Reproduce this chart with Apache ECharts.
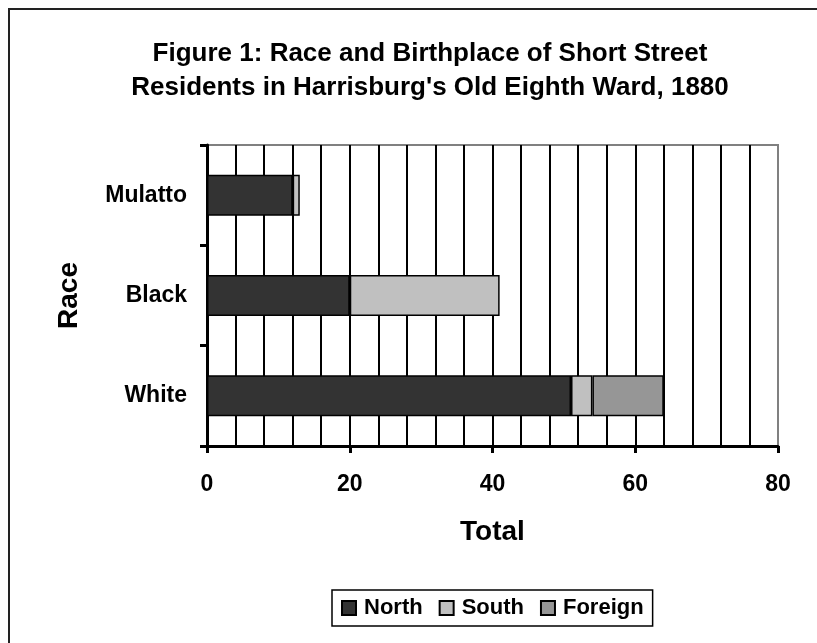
<!DOCTYPE html>
<html>
<head>
<meta charset="utf-8">
<script src="https://cdn.jsdelivr.net/npm/echarts@6/dist/echarts.min.js"></script>
<style>html,body{margin:0;padding:0;background:#fff}#c{width:817px;height:643px}</style>
</head>
<body>
<div id="c"></div>
<script>
const titleLines = ['Figure 1: Race and Birthplace of Short Street', "Residents in Harrisburg's Old Eighth Ward, 1880"];
const categories = ['White', 'Black', 'Mulatto'];
const seriesNames = ['North', 'South', 'Foreign'];
const north = [51, 20, 12];
const south = [3, 21, 1];
const foreign = [10, null, null];
const xTicks = [0, 20, 40, 60, 80];

const FONT = '"Liberation Sans", Arial, sans-serif';
const chart = echarts.init(document.getElementById('c'));
const barStyle = (color) => ({ color: color, borderColor: '#000', borderWidth: 1.5 });

chart.setOption({
  animation: false,
  backgroundColor: '#fff',
  graphic: [
    { type: 'rect', shape: { x: 9, y: 9, width: 900, height: 900 }, style: { fill: 'none', stroke: '#222', lineWidth: 2 }, silent: true },
    { type: 'text', x: 430, y: 54, style: { text: titleLines[0], font: 'bold 26px ' + FONT, fill: '#000', textAlign: 'center', textVerticalAlign: 'middle' } },
    { type: 'text', x: 430, y: 88, style: { text: titleLines[1], font: 'bold 26px ' + FONT, fill: '#000', textAlign: 'center', textVerticalAlign: 'middle' } }
  ],
  grid: { left: 207, right: 39, top: 145, bottom: 197, show: true, borderColor: '#808080', borderWidth: 2, backgroundColor: '#fff' },
  legend: {
    data: seriesNames,
    left: 332, top: 590,
    orient: 'horizontal',
    itemWidth: 14, itemHeight: 14, itemGap: 16,
    padding: [7, 9, 7, 9],
    borderColor: '#000', borderWidth: 1.5, backgroundColor: '#fff',
    icon: 'rect',
    textStyle: { fontFamily: FONT, fontWeight: 'bold', fontSize: 22, color: '#000', padding: [0, 0, 0, 3] }
  },
  xAxis: {
    type: 'value',
    min: xTicks[0], max: xTicks[xTicks.length - 1], interval: 20,
    name: 'Total', nameLocation: 'middle', nameGap: 72,
    nameTextStyle: { fontFamily: FONT, fontWeight: 'bold', fontSize: 28, color: '#000' },
    axisLine: { show: true, lineStyle: { color: '#000', width: 3 } },
    axisTick: { show: true, length: 7, lineStyle: { color: '#000', width: 3 } },
    axisLabel: { margin: 27, fontFamily: FONT, fontWeight: 'bold', fontSize: 23, color: '#000' },
    splitLine: { show: true, showMaxLine: false, showMinLine: false, lineStyle: { color: '#000', width: 2 } },
    minorTick: { show: false, splitNumber: 5 },
    minorSplitLine: { show: true, lineStyle: { color: '#000', width: 2 } }
  },
  yAxis: {
    type: 'category',
    data: categories,
    name: 'Race', nameLocation: 'middle', nameGap: 124,
    nameTextStyle: { fontFamily: FONT, fontWeight: 'bold', fontSize: 28, color: '#000' },
    axisLine: { show: true, lineStyle: { color: '#000', width: 3 } },
    axisTick: { show: true, length: 7, lineStyle: { color: '#000', width: 3 } },
    axisLabel: { margin: 20, fontFamily: FONT, fontWeight: 'bold', fontSize: 23, color: '#000' },
    splitLine: { show: false }
  },
  series: [
    { name: seriesNames[0], type: 'bar', stack: 'total', data: north, barWidth: 41, itemStyle: barStyle('#333333') },
    { name: seriesNames[1], type: 'bar', stack: 'total', data: south, barWidth: 41, itemStyle: barStyle('#c0c0c0') },
    { name: seriesNames[2], type: 'bar', stack: 'total', data: foreign, barWidth: 41, itemStyle: barStyle('#969696') }
  ]
});
</script>
</body>
</html>
